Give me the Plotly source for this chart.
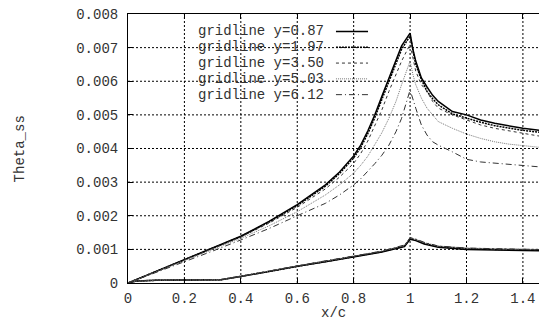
import plotly.graph_objects as go

# ---------------- data ----------------
SERIES_NAMES = ["gridline y=0.87", "gridline y=1.97", "gridline y=3.50",
                "gridline y=5.03", "gridline y=6.12"]

X_UPPER = [0, 0.1, 0.2, 0.3, 0.4, 0.5, 0.6, 0.7, 0.75, 0.8, 0.825, 0.85,
           0.875, 0.9, 0.925, 0.95, 0.97, 1.0, 1.01, 1.02, 1.04, 1.06, 1.08,
           1.1, 1.15, 1.2, 1.25, 1.3, 1.35, 1.4, 1.45, 1.5]

U1 = [0, 0.00035, 0.0007, 0.00106, 0.00139, 0.00183, 0.00233, 0.00292, 0.0033,
      0.00378, 0.0041, 0.00452, 0.005, 0.00555, 0.0061, 0.0066, 0.00705,
      0.00743, 0.00695, 0.0066, 0.0061, 0.00583, 0.00558, 0.0054, 0.0051,
      0.005, 0.00485, 0.00475, 0.00467, 0.0046, 0.00455, 0.0045]
U2 = [0, 0.00035, 0.0007, 0.00105, 0.00138, 0.00181, 0.0023, 0.00288, 0.00326,
      0.00372, 0.00403, 0.00444, 0.00492, 0.00546, 0.006, 0.0065, 0.00695,
      0.00735, 0.0069, 0.0065, 0.00605, 0.0057, 0.00548, 0.0053, 0.00503,
      0.0049, 0.00478, 0.00468, 0.0046, 0.00454, 0.00449, 0.00445]
U3 = [0, 0.00034, 0.00069, 0.00104, 0.00137, 0.00178, 0.00225, 0.0028, 0.00315,
      0.00356, 0.00385, 0.00422, 0.00466, 0.00515, 0.0057, 0.0062, 0.0066,
      0.0071, 0.00665, 0.0063, 0.0059, 0.0057, 0.0054, 0.0052, 0.005,
      0.00485, 0.0047, 0.0046, 0.00452, 0.00445, 0.00438, 0.00432]
U4 = [0, 0.00033, 0.00067, 0.001, 0.00133, 0.0017, 0.00212, 0.00262, 0.00292,
      0.00327, 0.0035, 0.00377, 0.0041, 0.00447, 0.0049, 0.0054, 0.0059,
      0.0066, 0.0062, 0.0059, 0.0055, 0.0052, 0.005, 0.0048, 0.0046, 0.00443,
      0.0043, 0.0042, 0.00413, 0.00408, 0.00404, 0.004]
U5 = [0, 0.00031, 0.00063, 0.00095, 0.00128, 0.00162, 0.002, 0.00237, 0.00262,
      0.00292, 0.0031, 0.00332, 0.00355, 0.0038, 0.0041, 0.0045, 0.0049,
      0.00574, 0.0055, 0.0052, 0.0047, 0.0044, 0.0042, 0.0041, 0.0039,
      0.00368, 0.0036, 0.00356, 0.00352, 0.00349, 0.00346, 0.00343]

X_LOWER = [0, 0.03, 0.1, 0.2, 0.33, 0.4, 0.5, 0.6, 0.7, 0.8, 0.9, 0.98, 1.0,
           1.02, 1.05, 1.1, 1.2, 1.3, 1.4, 1.5]

L1 = [0, 0.00006, 0.00008, 0.00009, 0.0001, 0.00019, 0.00035, 0.0005, 0.00063,
      0.00077, 0.00092, 0.00108, 0.0013, 0.00126, 0.00116, 0.00106, 0.001,
      0.00098, 0.00096, 0.00095]
L2 = [0, 0.00006, 0.00008, 0.00009, 0.0001, 0.0002, 0.00035, 0.0005, 0.00064,
      0.00078, 0.00093, 0.0011, 0.00132, 0.00128, 0.00118, 0.00108, 0.00102,
      0.001, 0.00098, 0.00097]
L3 = [0, 0.00006, 0.00008, 0.00009, 0.0001, 0.0002, 0.00036, 0.00051, 0.00065,
      0.00079, 0.00094, 0.00111, 0.00133, 0.00129, 0.00119, 0.00109, 0.00103,
      0.00101, 0.00099, 0.00098]
L4 = [0, 0.00006, 0.00008, 0.00009, 0.0001, 0.0002, 0.00036, 0.00051, 0.00065,
      0.0008, 0.00095, 0.00112, 0.00134, 0.0013, 0.0012, 0.0011, 0.00104,
      0.00102, 0.001, 0.00099]
L5 = [0, 0.00006, 0.00008, 0.00009, 0.0001, 0.0002, 0.00036, 0.00052, 0.00066,
      0.0008, 0.00095, 0.00113, 0.00135, 0.00131, 0.00121, 0.0011, 0.00104,
      0.00102, 0.001, 0.00099]

UPPER = [U1, U2, U3, U4, U5]
LOWER = [L1, L2, L3, L4, L5]

X_TICKS = [0, 0.2, 0.4, 0.6, 0.8, 1.0, 1.2, 1.4]
X_TICK_LABELS = ["0", "0.2", "0.4", "0.6", "0.8", "1", "1.2", "1.4"]
Y_TICKS = [0, 0.001, 0.002, 0.003, 0.004, 0.005, 0.006, 0.007, 0.008]
Y_TICK_LABELS = ["0", "0.001", "0.002", "0.003", "0.004", "0.005", "0.006",
                 "0.007", "0.008"]
X_TITLE = "x/c"
Y_TITLE = "Theta_ss"

# ---------------- styles ----------------
STYLES = [
    dict(color="#000000", width=1.5, dash="solid"),
    dict(color="#000000", width=1.5, dash="2px,1px"),
    dict(color="#333333", width=1, dash="3px,3px"),
    dict(color="#777777", width=1, dash="1px,1px"),
    dict(color="#333333", width=1, dash="6px,3px,1px,3px"),
]
GRID_STYLE = dict(color="#000000", width=1, dash="2px,2px")
FONT = "Liberation Mono"
FS = 14
TXT = "#333333"

fig = go.Figure()

# dotted grid (gnuplot style), placed at the tick values
for xv in X_TICKS[1:]:
    fig.add_shape(type="line", xref="x", yref="paper", x0=xv, x1=xv,
                  y0=0, y1=1, line=GRID_STYLE, layer="below")
for yv in Y_TICKS[1:-1]:
    fig.add_shape(type="line", xref="paper", yref="y", x0=0, x1=1,
                  y0=yv, y1=yv, line=GRID_STYLE, layer="below")

for name, up, lo, st in zip(SERIES_NAMES, UPPER, LOWER, STYLES):
    xs = list(X_UPPER) + [None] + list(X_LOWER)
    ys = list(up) + [None] + list(lo)
    fig.add_trace(go.Scatter(x=xs, y=ys, mode="lines", name=name,
                             line=st, connectgaps=False, showlegend=False))

# gnuplot-style key: text right-aligned, sample line to its right
row0 = 0.935
row_step = 0.0587
for i, (name, st) in enumerate(zip(SERIES_NAMES, STYLES)):
    yy = row0 - i * row_step
    fig.add_annotation(x=0.482, y=yy, xref="paper", yref="paper",
                       text=name, showarrow=False, xanchor="right",
                       yanchor="middle",
                       font=dict(family=FONT, size=FS, color=TXT))
    fig.add_shape(type="line", xref="paper", yref="paper",
                  x0=0.506, x1=0.584, y0=yy, y1=yy, line=st)

# axis titles
fig.add_annotation(x=0.5, y=-0.113, xref="paper", yref="paper", text=X_TITLE,
                   showarrow=False, xanchor="center", yanchor="middle",
                   font=dict(family=FONT, size=FS, color=TXT))
fig.add_annotation(x=-0.263, y=0.5, xref="paper", yref="paper", text=Y_TITLE,
                   showarrow=False, xanchor="center", yanchor="middle",
                   textangle=-90, font=dict(family=FONT, size=FS, color=TXT))

axis = dict(showgrid=False, zeroline=False, showline=True, linecolor="#000",
            linewidth=1, ticks="inside", ticklen=5, tickcolor="#000",
            tickfont=dict(family=FONT, size=FS, color=TXT), automargin=False)

fig.update_xaxes(range=[0, 1.457], tickvals=X_TICKS, ticktext=X_TICK_LABELS,
                 mirror="ticks", ticklabelstandoff=2, **axis)
fig.update_yaxes(range=[0, 0.008], tickvals=Y_TICKS, ticktext=Y_TICK_LABELS,
                 mirror=False, ticklabelstandoff=6, **axis)

fig.update_layout(width=539, height=320,
                  margin=dict(l=128, r=0, t=14, b=37),
                  paper_bgcolor="white", plot_bgcolor="white",
                  showlegend=False,
                  font=dict(family=FONT, size=FS, color=TXT))

fig.write_html("out.html")
